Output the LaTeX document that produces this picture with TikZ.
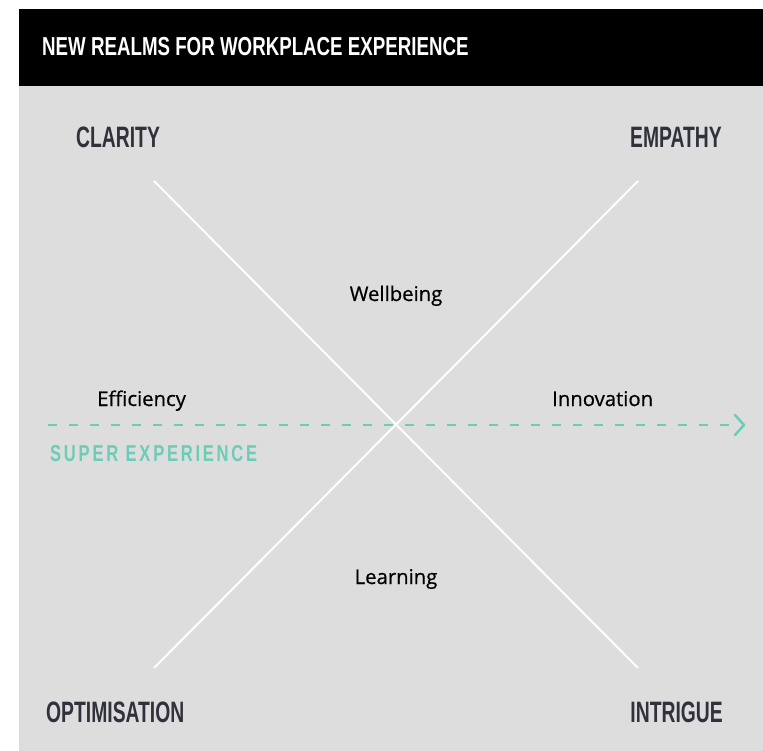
\documentclass[tikz,border=0pt]{standalone}
\usepackage{fontspec}
\setmainfont[FakeBold=0.6]{Open Sans}
\newfontfamily\condfont[FakeStretch=0.72]{Liberation Sans Bold}
\newfontfamily\cornerfont[FakeStretch=0.655]{Liberation Sans Bold}
\newfontfamily\condfontsp[FakeStretch=0.72,LetterSpace=12]{Liberation Sans Bold}
\usetikzlibrary{arrows.meta,calc}
\definecolor{panelgrey}{HTML}{DCDDDC}
\definecolor{corner}{HTML}{30313B}
\definecolor{teal}{HTML}{6BCDB6}
\tikzset{
  corner/.style={text=corner, font=\cornerfont\fontsize{29.5}{29.5}\selectfont, inner sep=0pt, anchor=base},
  realm/.style={text=black, font=\fontsize{20.3}{21}\selectfont, inner sep=0pt, anchor=base},
  axis/.style={white, line width=2pt},
}
\begin{document}
\begin{tikzpicture}[x=1pt,y=-1pt]
\useasboundingbox (0,0) rectangle (763,751);
\fill[white] (0,0) rectangle (763,751);
\fill[panelgrey] (19,86) rectangle (763,751);
\fill[black] (19,9) rectangle (763,86);
\node[text=white, font=\condfont\fontsize{26}{26}\selectfont, inner sep=0pt, anchor=base west] (title) at (42,56) {NEW REALMS FOR WORKPLACE EXPERIENCE};
\node[corner, anchor=base west] (clarity) at (76,148) {CLARITY};
\node[corner, anchor=base east] (empathy) at (722,148) {EMPATHY};
\node[corner, anchor=base west] (optim) at (46,722) {OPTIMISATION};
\node[corner, anchor=base east] (intrigue) at (723,722) {INTRIGUE};
\coordinate (tl) at (154,181);
\coordinate (tr) at (638,181);
\coordinate (bl) at (154,668);
\coordinate (br) at (638,668);
\draw[axis] (tl) -- (br);
\draw[axis] (tr) -- (bl);
\coordinate (dstart) at (48,425);
\coordinate (dend) at (740,425);
\draw[teal, line width=2.5pt, dash pattern=on 9pt off 12pt] (dstart) -- (dend);
\coordinate (tip) at (744,425);
\draw[teal, line width=2.5pt, line cap=round, line join=round] ($(tip)+(-9,-10)$) -- (tip) -- ($(tip)+(-9,10)$);
\node[realm] (wellbeing) at (396,301) {Wellbeing};
\node[realm, anchor=base west] (efficiency) at (97,406) {Efficiency};
\node[realm, anchor=base west] (innovation) at (552,406) {Innovation};
\node[realm] (learning) at (396,584) {Learning};
\node[text=teal, font=\condfontsp\fontsize{23}{23}\selectfont, inner sep=0pt, anchor=base west] (super) at (50,461) {SUPER EXPERIENCE};
\end{tikzpicture}
\end{document}
